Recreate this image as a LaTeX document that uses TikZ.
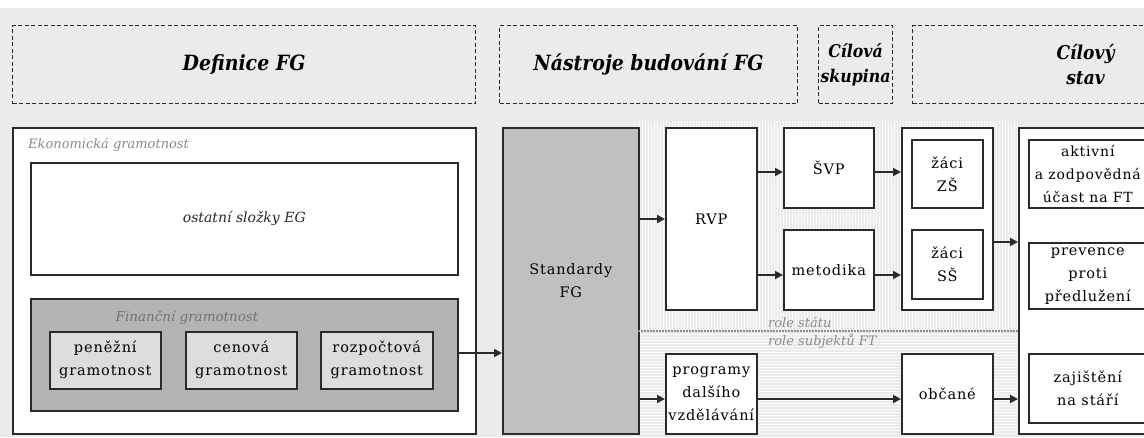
\documentclass[tikz,border=0pt]{standalone}
\usepackage{fontspec}
\setmainfont{DejaVu Serif}
\newfontfamily\hdrfont[FakeStretch=0.9]{DejaVu Serif}
\newfontfamily\boxfont[LetterSpace=6]{DejaVu Serif}
\usetikzlibrary{arrows.meta}
\definecolor{bg}{HTML}{EBEBEB}
\definecolor{ln}{HTML}{2A2A2A}
\definecolor{fgfill}{HTML}{B4B4B4}
\definecolor{stdfill}{HTML}{C0C0C0}
\definecolor{subfill}{HTML}{DCDCDC}
\definecolor{lblgray}{HTML}{8A8A8A}
\begin{document}
\begin{tikzpicture}[x=1pt,y=-1pt,
  box/.style={draw=ln, line width=1.6pt, fill=white, inner sep=0pt, anchor=north west, align=center,
    font=\boxfont\fontsize{14.5}{23}\selectfont},
  hdr/.style={draw=ln, dash pattern=on 4pt off 2.5pt, line width=1.1pt, inner sep=0pt, anchor=north west,
    align=center, font=\hdrfont\bfseries\itshape\fontsize{21}{25}\selectfont},
  arr/.style={-{Triangle[length=8pt,width=8pt]}, line width=1.8pt, draw=ln},
  lbl/.style={font=\itshape\fontsize{13}{15}\selectfont, inner sep=0pt},
  stripe/.style={draw=white!75!bg, line width=1pt}]
\useasboundingbox (0,0) rectangle (1144,437);
\clip (0,0) rectangle (1144,437);
\fill[white] (0,0) rectangle (1144,8);
\fill[bg] (0,8) rectangle (1144,437);
% stripes
\foreach \i in {0,...,126} \draw[stripe] (639+3*\i,121) -- (639+3*\i,330);
\foreach \j in {0,...,33} \draw[stripe] (638,334+3*\j) -- (1018,334+3*\j);
% headers
\node[hdr, minimum width=463pt, minimum height=78pt] (hdef) at (12,25) {Definice FG};
\node[hdr, minimum width=298pt, minimum height=78pt] (hnas) at (499,25) {Nástroje budování FG};
\node[hdr, minimum width=74pt, minimum height=78pt, font=\hdrfont\bfseries\itshape\fontsize{17.5}{25}\selectfont] (hcil) at (818,25) {Cílová\\skupina};
\node[hdr, minimum width=346pt, minimum height=78pt, font=\hdrfont\bfseries\itshape\fontsize{19}{25}\selectfont] (hstav) at (912,25) {Cílový\\stav};
% left block
\node[box, minimum width=463pt, minimum height=306pt] (eg) at (12,127) {};
\node[lbl, text=lblgray, anchor=west] (eglbl) at (28,145) {Ekonomická gramotnost};
\node[box, minimum width=427pt, minimum height=112pt, font=\itshape\fontsize{14}{16}\selectfont, text=ln] (ost) at (30,162) {ostatní složky EG};
\node[box, fill=fgfill, minimum width=427pt, minimum height=112pt] (fg) at (30,298) {};
\node[lbl, text=black!55, font=\itshape\fontsize{13.5}{15}\selectfont] (fglbl) at (187,318) {Finanční gramotnost};
\node[box, fill=subfill, minimum width=111pt, minimum height=57pt] (pen) at (49,331) {peněžní\\gramotnost};
\node[box, fill=subfill, minimum width=111pt, minimum height=57pt] (cen) at (185,331) {cenová\\gramotnost};
\node[box, fill=subfill, minimum width=112pt, minimum height=57pt] (roz) at (320,331) {rozpočtová\\gramotnost};
% middle
\node[box, fill=stdfill, minimum width=136pt, minimum height=306pt] (std) at (502,127) {Standardy\\FG};
\node[box, minimum width=91pt, minimum height=182pt] (rvp) at (665,127) {RVP};
\node[box, minimum width=90pt, minimum height=80pt] (svp) at (783,127) {ŠVP};
\node[box, minimum width=90pt, minimum height=80pt] (met) at (783,229) {metodika};
\node[box, minimum width=91pt, minimum height=80pt] (prog) at (665,353) {programy\\dalšího\\vzdělávání};
% target group
\node[box, minimum width=91pt, minimum height=182pt] (cs) at (901,127) {};
\node[box, minimum width=71pt, minimum height=68pt] (zs) at (911,139) {žáci\\ZŠ};
\node[box, minimum width=71pt, minimum height=69pt] (ss) at (911,229) {žáci\\SŠ};
\node[box, minimum width=91pt, minimum height=80pt] (obc) at (901,353) {občané};
% target state
\node[box, minimum width=200pt, minimum height=306pt] (stav) at (1018,127) {};
\node[box, minimum width=118pt, minimum height=68pt, font=\boxfont\fontsize{14}{23}\selectfont] (akt) at (1028,139) {aktivní\\a zodpovědná\\účast na FT};
\node[box, minimum width=118pt, minimum height=66pt] (prev) at (1028,242) {prevence\\proti\\předlužení};
\node[box, minimum width=118pt, minimum height=69pt] (zaj) at (1028,353) {zajištění\\na stáří};
% role divider
\coordinate (dl) at (638,331);
\coordinate (dr) at (1018,331);
\draw[draw=black!45, line width=1.5pt, dash pattern=on 1.5pt off 1.5pt] (dl) -- (dr);
\node[lbl, text=lblgray, anchor=west] (rs) at (768,322) {role státu};
\node[lbl, text=lblgray, anchor=west] (rsub) at (768,341) {role subjektů FT};
% arrow levels
\coordinate (y1) at (0,172);
\coordinate (y2) at (0,219);
\coordinate (y3) at (0,275);
\coordinate (y4) at (0,242);
\coordinate (y5) at (0,399);
\coordinate (y6) at (0,353);
% arrows
\draw[arr] (fg.east |- y6) -- (std.west |- y6);
\draw[arr] (std.east |- y2) -- (rvp.west |- y2);
\draw[arr] (std.east |- y5) -- (prog.west |- y5);
\draw[arr] (rvp.east |- y1) -- (svp.west |- y1);
\draw[arr] (rvp.east |- y3) -- (met.west |- y3);
\draw[arr] (svp.east |- y1) -- (cs.west |- y1);
\draw[arr] (met.east |- y3) -- (cs.west |- y3);
\draw[arr] (cs.east |- y4) -- (stav.west |- y4);
\draw[arr] (prog.east |- y5) -- (obc.west |- y5);
\draw[arr] (obc.east |- y5) -- (stav.west |- y5);
\end{tikzpicture}
\end{document}
